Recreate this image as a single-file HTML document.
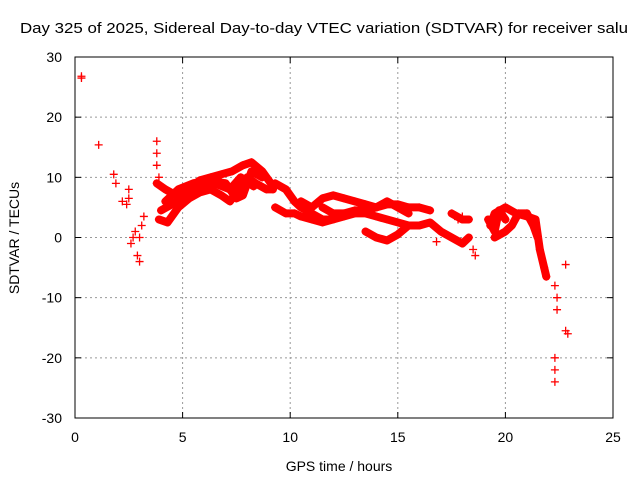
<!DOCTYPE html>
<html><head><meta charset="utf-8"><style>
body{margin:0;background:#fff;}
svg{display:block;font-family:"Liberation Sans",sans-serif;}
</style></head><body>
<svg width="640" height="480">
<text x="20" y="33" font-size="15" textLength="608" lengthAdjust="spacingAndGlyphs">Day 325 of 2025, Sidereal Day-to-day VTEC variation (SDTVAR) for receiver salu</text>
<g id="grid"></g>
<g id="marks"></g>
<rect x="75" y="57" width="538" height="361" fill="none" stroke="#000"/>
<g id="ticks"></g>
<text x="339" y="471" font-size="14" text-anchor="middle">GPS time / hours</text>
<text transform="translate(19,238) rotate(-90)" font-size="14" text-anchor="middle">SDTVAR / TECUs</text>
</svg>
<script>
const xTicks=[0,5,10,15,20,25];
const yTicks=[-30,-20,-10,0,10,20,30];
const trackA1=[[3.8,9],[4.2,8],[4.7,7],[5.2,8],[5.8,9.5],[6.3,10],[6.8,10.5],[7.3,11],[7.8,12],[8.2,12.5],[8.7,11],[9.1,9]];
const trackA2=[[3.9,3],[4.3,2.5],[4.8,5],[5.3,6.5],[5.8,7.5],[6.3,8],[6.8,7],[7.2,6],[7.6,8],[8,10],[8.4,9],[8.9,8],[9.2,8]];
const trackA3=[[4.2,6],[4.8,8],[5.5,9],[6.2,9.5],[7,9],[7.5,6.5],[7.8,7],[8.2,11],[8.7,10]];
const trackA4=[[4.0,4.5],[4.5,5.5],[5.0,6.5],[5.6,8.5],[6.5,9],[7.2,8],[7.7,10],[8.3,8.5]];
const trackB=[[9.3,9],[9.8,8],[10.2,6],[10.5,5],[11,4],[11.5,3],[12,3],[12.5,3.5],[13,4],[13.5,4],[14,3.5],[14.5,3],[15,2.5],[15.5,2],[16,2],[16.5,2.5],[17,1],[17.5,0],[18,-1],[18.3,0]];
const trackB2=[[9.3,5],[9.8,4],[10.2,4],[10.5,3.5],[11,3],[11.5,2.5],[12,3]];
const trackC=[[10.5,6],[11,5],[11.5,6.5],[12,7],[12.5,6.5],[13,6],[13.5,5.5],[14,5],[14.5,5.5],[15,5.5],[15.5,5],[16,5],[16.5,4.5]];
const trackD=[[11.5,5],[12,4],[12.5,4],[13,4.5],[13.5,4.5],[14,5],[14.5,6],[15,5],[15.5,4]];
const trackE=[[13.5,1],[14,0],[14.5,-0.5],[15,0.5],[15.5,2]];
const trackF=[[17.5,4],[18,3],[18.3,3]];
const trackG=[[19.3,2],[19.5,4],[20,5],[20.5,4],[21,3.5],[21.4,3],[21.6,-2],[21.8,-5],[21.9,-6.5]];
const trackG2=[[19.5,0],[20,1],[20.3,2],[20.6,4],[21,4],[21.3,2],[21.5,0]];
const trackH=[[19.2,3],[19.5,1],[19.7,4.5],[20,3]];
const scatter=[[0.3,26.5],[0.3,26.8],[1.1,15.4],[1.8,10.5],[1.9,9],[2.2,6],[2.4,5.5],[2.5,8],[2.5,6.5],[2.6,-1],[2.7,0],[2.8,1],[2.9,-3],[3.0,0],[3.1,2],[3.2,3.5],[3.0,-4],[3.8,16],[3.8,14],[3.8,12],[3.9,10],[22.3,-8],[22.4,-10],[22.4,-12],[22.3,-20],[22.3,-22],[22.3,-24],[22.8,-4.5],[22.8,-15.5],[22.9,-16],[16.8,-0.7],[17.8,3],[18.0,3.5],[18.5,-2],[18.6,-3]];
const tracks=[trackA1,trackA2,trackA3,trackA4,trackB,trackB2,trackC,trackD,trackE,trackF,trackG,trackG2,trackH];
const NS='http://www.w3.org/2000/svg';
const X=t=>75+t*538/25, Y=v=>237.5-v*361/60;
const grid=document.getElementById('grid'),ticks=document.getElementById('ticks'),marks=document.getElementById('marks');
function mk(tag,a,p){const e=document.createElementNS(NS,tag);for(const k in a)e.setAttribute(k,a[k]);p.appendChild(e);return e;}
xTicks.forEach(t=>{const x=X(t);
 if(t>0&&t<25){const g=mk('line',{x1:x,x2:x,y1:57,y2:418,stroke:'#999','stroke-dasharray':'2,3'},grid);
 
 }
 mk('line',{x1:x,x2:x,y1:418,y2:412,stroke:'#000'},ticks);mk('line',{x1:x,x2:x,y1:57,y2:63,stroke:'#000'},ticks);
 const l=mk('text',{x:x,y:442,'font-size':14,'text-anchor':'middle'},ticks);l.textContent=t;
 
 });
yTicks.forEach(v=>{const y=Y(v);
 if(v>-30&&v<30){const g=mk('line',{x1:75,x2:613,y1:y,y2:y,stroke:'#999','stroke-dasharray':'2,3'},grid);
 
 }
 mk('line',{x1:75,x2:81,y1:y,y2:y,stroke:'#000'},ticks);mk('line',{x1:613,x2:607,y1:y,y2:y,stroke:'#000'},ticks);
 const l=mk('text',{x:62,y:y+5,'font-size':14,'text-anchor':'end'},ticks);l.textContent=v;
 
 });
function plus(t,v){const x=X(t),y=Y(v);
 const p=mk('path',{d:`M${x-4},${y}h8M${x},${y-4}v8`,stroke:'#f00','stroke-width':1.3},marks);
 
 }
tracks.forEach(tr=>{
 const pl=mk('polyline',{points:tr.map(p=>X(p[0])+','+Y(p[1])).join(' '),fill:'none',stroke:'#f00','stroke-width':8,'stroke-linejoin':'round','stroke-linecap':'round'},marks);
 
 
 tr.forEach(p=>plus(p[0],p[1]));});
scatter.forEach(p=>plus(p[0],p[1]));
</script>
</body></html>
